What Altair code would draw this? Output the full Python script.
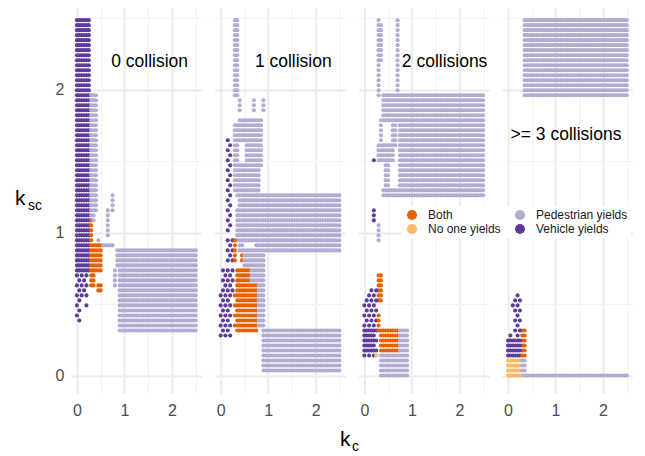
import altair as alt
import pandas as pd

PANELS = ["0 collision", "1 collision", "2 collisions", ">= 3 collisions"]
OUTCOMES = ["Both", "No one yields", "Pedestrian yields", "Vehicle yields"]
COLORS = ["#e66101", "#fdb863", "#b2abd2", "#5e3c99"]
CODE = {"B": "Both", "N": "No one yields", "P": "Pedestrian yields", "V": "Vehicle yields"}

# parameter sweep resolution (k_c, k_sc)
KC_STEP = 0.05
KSC_STEP = 0.035

# outcome regions: (outcome, kc_min, kc_max, ksc_min, ksc_max, sparse)
REG_0 = [
    ("V", 0.0, 0.25, 0.72, 2.5, 0),
    ("V", 0.0, 0.15, 1.62, 1.66, 0),
    ("P", 0.3, 0.4, 1.66, 1.96, 0),
    ("P", 0.3, 0.4, 1.17, 1.62, 0),
    ("P", 0.3, 0.35, 1.08, 1.12, 0),
    ("P", 0.75, 0.75, 1.17, 1.25, 0),
    ("P", 0.65, 0.65, 0.99, 1.15, 0),
    ("P", 0.45, 0.45, 0.87, 0.96, 0),
    ("P", 0.5, 0.75, 0.9, 0.92, 0),
    ("B", 0.3, 0.3, 0.92, 1.07, 0),
    ("B", 0.3, 0.5, 0.74, 0.92, 0),
    ("B", 0.3, 0.35, 0.63, 0.74, 0),
    ("B", 0.45, 0.5, 0.6, 0.63, 0),
    ("V", 0.0, 0.2, 0.56, 0.72, 1),
    ("V", 0.0, 0.05, 0.38, 0.56, 1),
    ("V", 0.2, 0.2, 0.5, 0.5, 0),
    ("V", 0.15, 0.15, 0.6, 0.6, 0),
    ("P", 0.9, 2.5, 0.33, 0.86, 0),
    ("P", 0.85, 0.85, 0.78, 0.86, 0),
    ("P", 0.8, 0.8, 0.63, 0.73, 0),
]
REG_1 = [
    ("P", 0.3, 0.35, 1.96, 2.5, 0),
    ("P", 0.4, 0.4, 1.85, 1.94, 0),
    ("P", 0.7, 0.7, 1.85, 1.94, 0),
    ("P", 0.9, 0.9, 1.87, 1.94, 0),
    ("P", 0.4, 0.85, 1.66, 1.8, 0),
    ("P", 0.55, 0.85, 1.48, 1.66, 0),
    ("P", 0.3, 0.35, 1.34, 1.76, 0),
    ("P", 0.3, 0.8, 1.31, 1.48, 0),
    ("P", 0.35, 0.35, 1.25, 1.3, 0),
    ("P", 0.75, 0.75, 1.25, 1.3, 0),
    ("V", 0.15, 0.2, 1.25, 1.66, 1),
    ("V", 0.15, 0.2, 1.0, 1.24, 1),
    ("P", 0.4, 2.5, 1.15, 1.25, 0),
    ("P", 0.35, 2.5, 0.93, 1.15, 0),
    ("P", 0.75, 2.5, 0.87, 0.93, 0),
    ("V", 0.15, 0.25, 0.8, 0.94, 1),
    ("B", 0.3, 0.3, 0.8, 0.94, 0),
    ("P", 0.4, 0.45, 0.87, 0.94, 0),
    ("B", 0.45, 0.55, 0.79, 0.85, 0),
    ("P", 0.5, 0.9, 0.34, 0.86, 0),
    ("V", 0.05, 0.25, 0.6, 0.73, 1),
    ("V", 0.0, 0.2, 0.27, 0.6, 1),
    ("B", 0.35, 0.6, 0.62, 0.73, 0),
    ("B", 0.35, 0.75, 0.33, 0.62, 0),
    ("B", 0.3, 0.3, 0.35, 0.55, 1),
    ("P", 0.9, 2.5, 0.02, 0.31, 0),
]
REG_2 = [
    ("P", 0.3, 0.3, 1.97, 2.5, 0),
    ("P", 0.35, 0.35, 2.2, 2.45, 0),
    ("P", 0.7, 0.7, 1.97, 2.5, 0),
    ("P", 0.4, 2.5, 1.8, 1.96, 0),
    ("P", 0.75, 2.5, 1.26, 1.8, 0),
    ("P", 0.35, 0.35, 1.66, 1.8, 0),
    ("P", 0.6, 0.65, 1.62, 1.8, 0),
    ("P", 0.3, 0.6, 1.49, 1.62, 0),
    ("P", 0.45, 0.5, 1.26, 1.49, 0),
    ("P", 0.4, 2.5, 1.26, 1.29, 0),
    ("V", 0.2, 0.2, 1.52, 1.52, 0),
    ("V", 0.2, 0.2, 1.08, 1.15, 0),
    ("P", 0.3, 0.3, 0.93, 1.06, 0),
    ("B", 0.3, 0.35, 0.52, 0.69, 0),
    ("V", 0.1, 0.25, 0.52, 0.59, 1),
    ("V", 0.0, 0.25, 0.15, 0.52, 1),
    ("V", 0.0, 0.2, 0.17, 0.31, 0),
    ("B", 0.3, 0.3, 0.31, 0.43, 0),
    ("B", 0.35, 0.7, 0.15, 0.31, 0),
    ("P", 0.75, 0.9, 0.15, 0.31, 0),
    ("P", 0.35, 0.9, 0.0, 0.15, 0),
    ("N", 0.25, 0.25, 0.13, 0.13, 0),
]
REG_3 = [
    ("P", 0.35, 2.5, 1.96, 2.5, 0),
    ("P", 0.3, 2.5, 0.0, 0.0, 0),
    ("N", 0.0, 0.25, 0.0, 0.14, 0),
    ("P", 0.3, 0.35, 0.03, 0.14, 0),
    ("B", 0.3, 0.35, 0.15, 0.31, 0),
    ("V", 0.0, 0.25, 0.15, 0.23, 0),
    ("V", 0.15, 0.25, 0.23, 0.56, 1),
    ("V", 0.05, 0.05, 0.25, 0.28, 0),
    ("V", 0.1, 0.1, 0.48, 0.48, 0),
]
REGIONS = [REG_0, REG_1, REG_2, REG_3]

ANNOT_TEXT = ["0 collision", "1 collision", "2 collisions", ">= 3 collisions"]
ANNOT_KC = [1.53, 1.53, 1.69, 1.22]
ANNOT_KSC = [2.19, 2.19, 2.19, 1.68]


def expand(regs, panel):
    cells = {}
    for o, k0, k1, s0, s1, sparse in regs:
        i0, i1 = round(k0 / KC_STEP), round(k1 / KC_STEP)
        j0, j1 = round(s0 / KSC_STEP), round(s1 / KSC_STEP)
        for i in range(i0, i1 + 1):
            for j in range(j0, j1 + 1):
                if sparse and (i + j) % 2:
                    continue
                cells[(i, j)] = o
    return [
        {"panel": panel, "kc": round(i * KC_STEP, 4), "ksc": round(j * KSC_STEP, 4), "outcome": CODE[o]}
        for (i, j), o in cells.items()
    ]


FONT = "Liberation Sans"
xscale = alt.Scale(domain=[-0.125, 2.625], nice=False, zero=False)
yscale = alt.Scale(domain=[-0.125, 2.57], nice=False, zero=False)
TICKS = [0, 0.5, 1, 1.5, 2, 2.5]
grid_w = {"condition": {"test": "datum.value % 1 !== 0", "value": 1}, "value": 2}
grid_c = {"condition": {"test": "datum.value % 1 !== 0", "value": "#f2f2f2"}, "value": "#ebebeb"}
lab_expr = "datum.value % 1 === 0 ? format(datum.value, 'd') : ''"

xaxis = alt.Axis(values=TICKS, title=None, ticks=False, domain=False, labelExpr=lab_expr,
                 labelFontSize=16, labelColor="#4d4d4d", labelPadding=9, labelFont=FONT,
                 gridWidth=grid_w, gridColor=grid_c, labelOverlap=False, labelFlush=False)


def yaxis(show):
    return alt.Axis(values=TICKS, title=None, ticks=False, domain=False, labelExpr=lab_expr,
                    labels=show, labelFontSize=16, labelColor="#4d4d4d", labelPadding=7,
                    labelFont=FONT, gridWidth=grid_w, gridColor=grid_c, labelOverlap=False,
                    labelFlush=False)


color = alt.Color("outcome:N", scale=alt.Scale(domain=OUTCOMES, range=COLORS),
                  legend=alt.Legend(title=None, orient="none", legendX=332, legendY=198,
                                    columns=2, symbolType="circle", symbolSize=100,
                                    symbolStrokeWidth=0, symbolOpacity=1, labelFontSize=12,
                                    labelFont=FONT, labelColor="#1a1a1a", labelOffset=10,
                                    columnPadding=13, rowPadding=2, padding=3,
                                    fillColor="white"))

W = 2.75 * 47.5
H = 2.695 * 143

panels = []
for p, name in enumerate(PANELS):
    d = pd.DataFrame(expand(REGIONS[p], name))
    x_enc = alt.X("kc:Q", scale=xscale, axis=xaxis)
    y_enc = alt.Y("ksc:Q", scale=yscale, axis=yaxis(p == 0))
    pts = alt.Chart(d).mark_circle(size=17, opacity=1).encode(x=x_enc, y=y_enc, color=color)
    ann = alt.Chart(pd.DataFrame({"kc": [ANNOT_KC[p]], "ksc": [ANNOT_KSC[p]],
                                  "label": [ANNOT_TEXT[p]]})).mark_text(
        fontSize=17.5, font=FONT, color="black", align="center", baseline="middle"
    ).encode(x=x_enc, y=y_enc, text="label:N")
    layers = [pts, ann]
    if p == 0:
        def t(s, x, y, size):
            return alt.Chart(pd.DataFrame({"t": [s]})).mark_text(
                fontSize=size, font=FONT, color="black", align="left", baseline="alphabetic"
            ).encode(x=alt.value(x), y=alt.value(y), text="t:N")
        layers += [t("k", -56, 197, 21), t("sc", -43, 202, 14),
                   t("k", 269, 438, 21), t("c", 281, 443, 14)]
    panels.append(alt.layer(*layers).properties(width=W, height=H))

chart = alt.hconcat(*panels, spacing=12.7, bounds="flush").properties(
    padding={"left": 7, "top": 0, "right": 0, "bottom": 0}
).configure(font=FONT).configure_view(stroke=None)

chart.save("out.html", embed_options={"renderer": "svg", "actions": False})
